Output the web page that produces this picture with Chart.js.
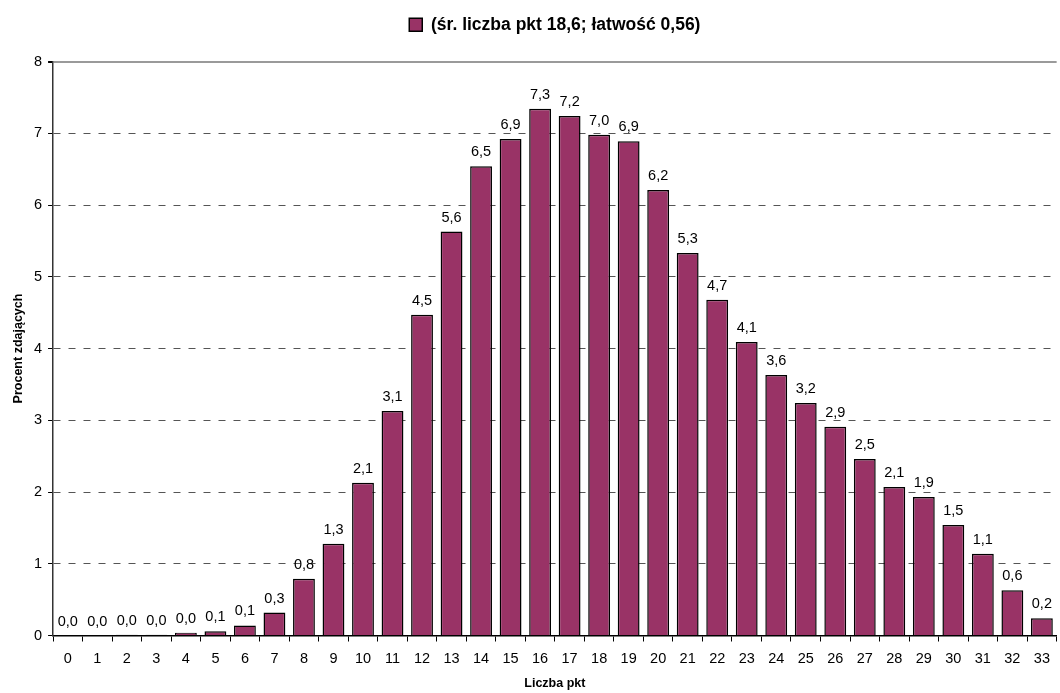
<!DOCTYPE html>
<html>
<head>
<meta charset="utf-8">
<script src="https://cdn.jsdelivr.net/npm/chart.js@4/dist/chart.umd.min.js"></script>
<style>
html,body{margin:0;padding:0;background:#fff;}
#wrap{width:1060px;height:693px;position:relative;}
</style>
</head>
<body>
<div id="wrap"><canvas id="c" width="1060" height="693"></canvas></div>
<script>
const categories = ['0','1','2','3','4','5','6','7','8','9','10','11','12','13','14','15','16','17','18','19','20','21','22','23','24','25','26','27','28','29','30','31','32','33'];
const percentValues = [0.00,0.00,0.01,0.01,0.04,0.06,0.14,0.32,0.79,1.28,2.13,3.13,4.47,5.63,6.54,6.92,7.34,7.24,6.98,6.89,6.21,5.33,4.68,4.09,3.63,3.24,2.91,2.46,2.07,1.93,1.54,1.14,0.63,0.24];
const yTicks = [0,1,2,3,4,5,6,7,8];
const seriesLabel = '(śr. liczba pkt 18,6; łatwość 0,56)';
const xTitle = 'Liczba pkt';
const yTitle = 'Procent zdających';

const FONT = "'Liberation Sans', Arial, sans-serif";

const valueLabels = {
  id: 'valueLabels',
  afterDatasetsDraw(chart) {
    const ctx = chart.ctx;
    const meta = chart.getDatasetMeta(0);
    ctx.save();
    ctx.font = '14.5px ' + FONT;
    ctx.fillStyle = '#000';
    ctx.textAlign = 'center';
    ctx.textBaseline = 'alphabetic';
    meta.data.forEach((bar, i) => {
      const v = chart.data.datasets[0].data[i];
      ctx.fillText(v.toFixed(1).replace('.', ','), bar.x, bar.y - 10);
    });
    ctx.restore();
  }
};

const legendGap = {
  id: 'legendGap',
  beforeLayout(chart) {
    const lg = chart.legend;
    if (lg && !lg._gapPatched) {
      const fit = lg.fit;
      lg.fit = function () { fit.call(this); this.height += 18; };
      lg._gapPatched = true;
    }
  }
};

new Chart(document.getElementById('c'), {
  type: 'bar',
  data: {
    labels: categories,
    datasets: [{
      label: seriesLabel,
      data: percentValues,
      backgroundColor: '#993366',
      borderColor: '#000',
      borderWidth: 1.5,
      borderSkipped: 'bottom',
      barPercentage: 0.74,
      categoryPercentage: 1.0
    }]
  },
  options: {
    responsive: false,
    animation: false,
    devicePixelRatio: 1,
    layout: { padding: { left: 6, right: 0, top: 6, bottom: 0 } },
    plugins: {
      legend: {
        position: 'top',
        fullSize: false,
        labels: {
          font: { family: FONT, size: 17.5, weight: 'bold' },
          color: '#000',
          boxWidth: 13,
          boxHeight: 13,
          padding: 10
        }
      },
      tooltip: { enabled: false }
    },
    scales: {
      x: {
        grid: {
          display: true,
          drawOnChartArea: false,
          offset: true,
          tickLength: 6,
          tickColor: '#000',
          lineWidth: 1
        },
        border: { display: true, color: '#000', width: 1.5 },
        ticks: {
          font: { family: FONT, size: 14.5, lineHeight: 1.0 },
          color: '#000',
          padding: 10,
          maxRotation: 0,
          autoSkip: false
        },
        title: {
          display: true,
          text: xTitle,
          font: { family: FONT, size: 12.5, weight: 'bold' },
          color: '#000',
          padding: { top: 0, bottom: 2 }
        }
      },
      y: {
        min: 0,
        max: 8,
        afterBuildTicks(scale) { scale.ticks = yTicks.map(v => ({ value: v })); },
        grid: {
          display: true,
          drawTicks: true,
          tickLength: 5,
          tickColor: '#000',
          color: ctx => (ctx.tick && ctx.tick.value === 8) ? '#9a9a9a' : '#555',
          lineWidth: ctx => (ctx.tick && ctx.tick.value === 8) ? 2 : 1
        },
        border: {
          display: true,
          color: '#333',
          width: 1.5,
          dash: ctx => (ctx.tick && ctx.tick.value === 8) ? [] : [7, 8]
        },
        ticks: {
          font: { family: FONT, size: 14.5 },
          color: '#000',
          padding: 6,
          callback: v => String(v)
        },
        title: {
          display: true,
          text: yTitle,
          font: { family: FONT, size: 12.5, weight: 'bold' },
          color: '#000',
          padding: { top: 5, bottom: 2 }
        }
      }
    }
  },
  plugins: [valueLabels, legendGap]
});
</script>
</body>
</html>
